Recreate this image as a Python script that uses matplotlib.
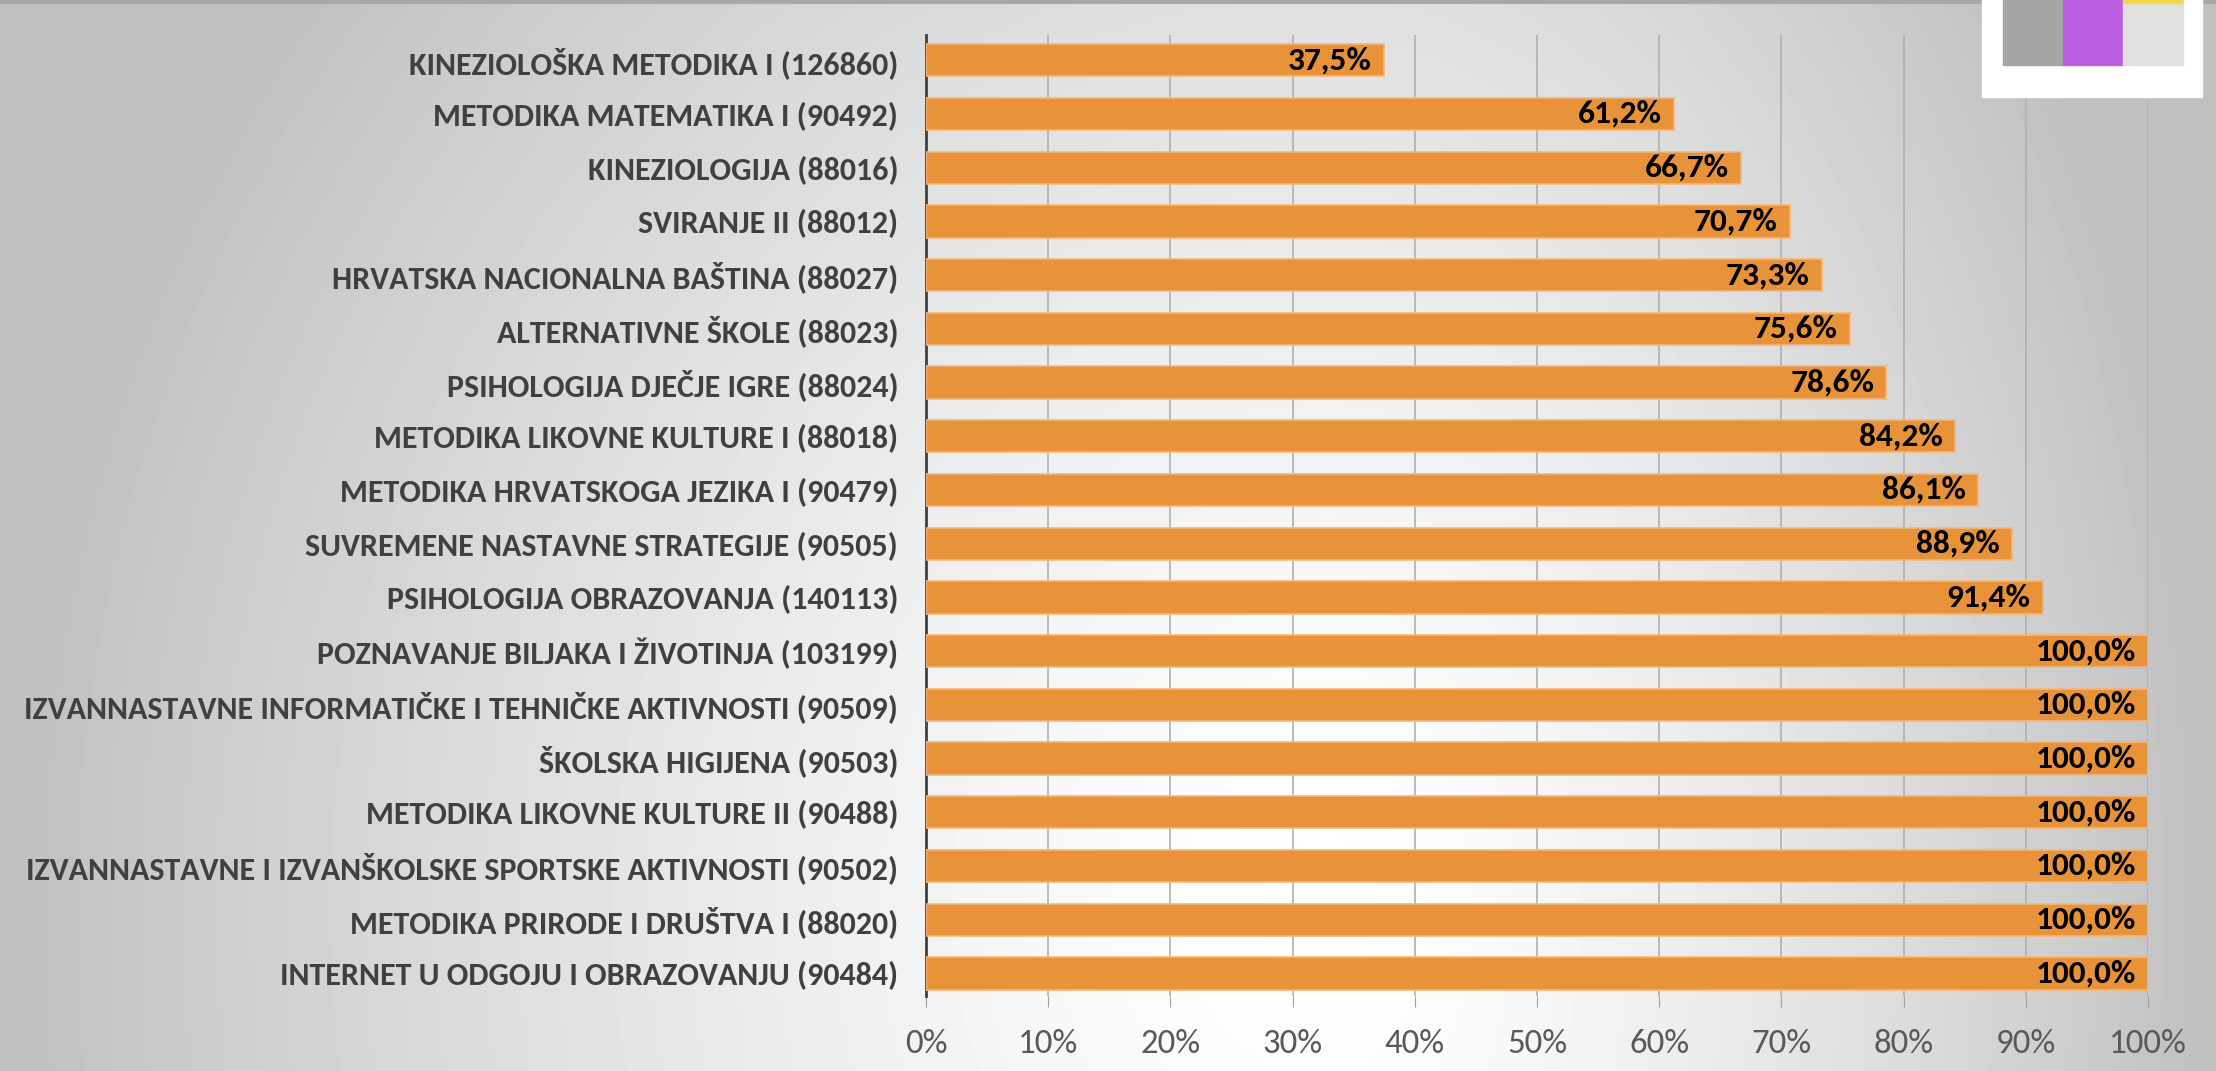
import numpy as np
import matplotlib.pyplot as plt
from matplotlib import font_manager
from matplotlib.patches import Rectangle

courses = [
    'KINEZIOLOŠKA METODIKA I (126860)',
    'METODIKA MATEMATIKA I (90492)',
    'KINEZIOLOGIJA (88016)',
    'SVIRANJE II (88012)',
    'HRVATSKA NACIONALNA BAŠTINA (88027)',
    'ALTERNATIVNE ŠKOLE (88023)',
    'PSIHOLOGIJA DJEČJE IGRE (88024)',
    'METODIKA LIKOVNE KULTURE I (88018)',
    'METODIKA HRVATSKOGA JEZIKA I (90479)',
    'SUVREMENE NASTAVNE STRATEGIJE (90505)',
    'PSIHOLOGIJA OBRAZOVANJA (140113)',
    'POZNAVANJE BILJAKA I ŽIVOTINJA (103199)',
    'IZVANNASTAVNE INFORMATIČKE I TEHNIČKE AKTIVNOSTI (90509)',
    'ŠKOLSKA HIGIJENA (90503)',
    'METODIKA LIKOVNE KULTURE II (90488)',
    'IZVANNASTAVNE I IZVANŠKOLSKE SPORTSKE AKTIVNOSTI (90502)',
    'METODIKA PRIRODE I DRUŠTVA I (88020)',
    'INTERNET U ODGOJU I OBRAZOVANJU (90484)',
]
pass_rate = [37.5, 61.2, 66.7, 70.7, 73.3, 75.6, 78.6, 84.2, 86.1, 88.9, 91.4,
             100.0, 100.0, 100.0, 100.0, 100.0, 100.0, 100.0]
x_ticks = [0, 10, 20, 30, 40, 50, 60, 70, 80, 90, 100]

names = {f.name for f in font_manager.fontManager.ttflist}
fam = next((f for f in ['Carlito', 'Liberation Sans Narrow', 'Lato'] if f in names),
           'DejaVu Sans')
plt.rcParams['font.family'] = [fam, 'DejaVu Sans']

W, H = 2216, 1071
fig = plt.figure(figsize=(W / 100, H / 100), dpi=100)

# background: soft grey gradient, light near the lower middle
bg = fig.add_axes([0, 0, 1, 1])
yy, xx = np.mgrid[0:1:300j, 0:1:600j]
cx = 0.6
dx = np.where(xx < cx, (xx - cx) / cx, (xx - cx) / (1 - cx))
dy = (yy - 0.85) / 1.4
r = np.clip(np.sqrt(dx ** 2 + dy ** 2), 0, 1)
bg.imshow(1 - 0.25 * r ** 1.4, cmap='gray', vmin=0, vmax=1, extent=[0, 1, 1, 0],
          aspect='auto')
bg.plot([0, 1], [0.002, 0.002], color='#a8a8a8', lw=3)
bg.set_xlim(0, 1)
bg.set_ylim(1, 0)
bg.axis('off')

ax = fig.add_axes([926 / W, 1 - 996 / H, (2148 - 926) / W, (996 - 35) / H])
ax.patch.set_alpha(0)
y = np.arange(len(courses))
ax.barh(y, pass_rate, height=0.6, color='#E8933A', edgecolor='#F2B77A',
        linewidth=1.2, zorder=3)
for yi, v in zip(y, pass_rate):
    ax.text(v - 1.0, yi, f'{v:.1f}%'.replace('.', ','), ha='right', va='center',
            fontsize=24, fontweight='bold', color='black', zorder=4)

ax.set_ylim(len(courses) - 0.58, -0.47)
ax.set_xlim(0, 100)
ax.set_yticks(y)
ax.set_yticklabels(courses, fontsize=23, fontweight='bold', color='#404040')
ax.set_xticks(x_ticks)
ax.set_xticklabels([f'{t}%' for t in x_ticks], fontsize=25, color='#595959')
ax.tick_params(axis='y', length=0, pad=20)
ax.tick_params(axis='x', length=8, color='#a0a0a0', pad=16)
ax.grid(axis='x', color='#b0b0b0', lw=1.2, zorder=0)
for s in ['top', 'right', 'bottom']:
    ax.spines[s].set_visible(False)
ax.spines['left'].set_color('#404040')
ax.spines['left'].set_linewidth(2)

# legend-like swatch box in the top right corner
fig.patches.append(Rectangle((1982 / W, 1 - 97 / H), 220 / W, 97 / H,
                             transform=fig.transFigure, color='white', zorder=5))
for i, c in enumerate(['#A5A5A5', '#BB5FE0', '#E0E0E0']):
    fig.patches.append(Rectangle(((2003 + 60 * i) / W, 1 - 65 / H), 60 / W, 65 / H,
                                 transform=fig.transFigure, color=c, zorder=6))
fig.patches.append(Rectangle((2123 / W, 1 - 3 / H), 59 / W, 3 / H,
                             transform=fig.transFigure, color='#F2D64B', zorder=7))

fig.savefig('out.png', dpi=100)
